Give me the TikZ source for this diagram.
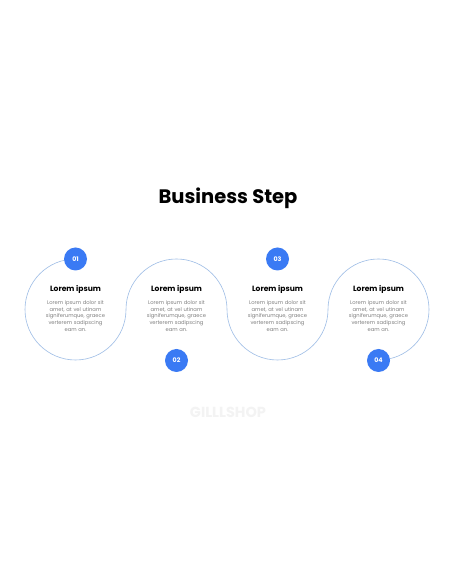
\documentclass[tikz,border=0pt]{standalone}
\usepackage{fontspec}
\setmainfont{Poppins}
\definecolor{badge}{HTML}{3A7AF4}
\definecolor{wave}{HTML}{9EBDE6}
\definecolor{body}{HTML}{808080}
\definecolor{mark}{HTML}{F3F3F3}
\begin{document}
\begin{tikzpicture}[x=1pt,y=1pt,
  badgenode/.style={circle,fill=badge,minimum size=23pt,inner sep=0pt,text=white,font=\fontsize{6.3}{7}\selectfont\bfseries},
  headnode/.style={font=\fontsize{7.6}{9}\selectfont\bfseries,text=black},
  bodynode/.style={font=\fontsize{5.2}{6.6}\selectfont,text=body,align=center,text width=70pt}]
\useasboundingbox (0,0) rectangle (456,586);
\fill[white] (0,0) rectangle (456,586);
\node[font=\fontsize{19.5}{22}\selectfont\bfseries] (title) at (228,388) {Business Step};
% wave
\draw[wave,line width=0.6pt] (75.5,327) arc[start angle=90,end angle=360,radius=50.5]
  arc[start angle=180,end angle=0,radius=50.5]
  arc[start angle=180,end angle=360,radius=50.5]
  arc[start angle=180,end angle=-90,radius=50.5];
\foreach \i/\cx in {1/75.5,2/176.5,3/277.5,4/378.5}{
  \node[headnode] (h\i) at (\cx,297) {Lorem ipsum};
  \node[bodynode] (t\i) at (\cx,270) {Lorem ipsum dolor sit\\amet, at vel utinam\\signiferumque, graece\\verterem sadipscing\\eam an.};
}
\node[badgenode] (b1) at (75.5,327) {01};
\node[badgenode] (b2) at (176.5,225.5) {02};
\node[badgenode] (b3) at (277.5,327) {03};
\node[badgenode] (b4) at (378.5,225.5) {04};
\node[font=\fontsize{14.5}{16}\selectfont\bfseries,text=mark] (wm) at (228,174) {GILLLSHOP};
\end{tikzpicture}
\end{document}
